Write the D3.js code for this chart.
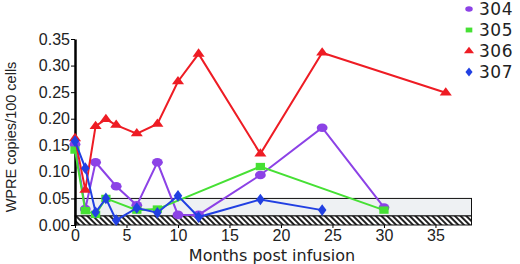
<!DOCTYPE html>
<html>
<head>
<meta charset="utf-8">
<script src="https://cdn.jsdelivr.net/npm/d3@7"></script>
<style>
  body { margin: 0; background: #fff; }
  svg { display: block; font-family: 'DejaVu Sans', sans-serif; }
</style>
</head>
<body>
<div id="chart"></div>
<script>
// Data
const patients = ['304', '305', '306', '307'];
const months304 = [0, 1, 2, 4, 6, 8, 10, 12, 18, 24, 30];
const wpre304 = [0.152, 0.03, 0.118, 0.073, 0.037, 0.118, 0.019, 0.019, 0.094, 0.183, 0.033];
const months305 = [0, 1, 2, 3, 6, 8, 18, 30];
const wpre305 = [0.141, 0.027, 0.02, 0.05, 0.028, 0.03, 0.11, 0.028];
const months306 = [0, 1, 2, 3, 4, 6, 8, 10, 12, 18, 24, 36];
const wpre306 = [0.163, 0.066, 0.186, 0.199, 0.188, 0.172, 0.19, 0.27, 0.322, 0.134, 0.324, 0.249];
const months307 = [0, 1, 2, 3, 4, 6, 8, 10, 12, 18, 24];
const wpre307 = [0.158, 0.107, 0.024, 0.05, 0.009, 0.032, 0.023, 0.055, 0.015, 0.048, 0.028];
const yTicks = [0, 0.05, 0.1, 0.15, 0.2, 0.25, 0.3, 0.35];
const xTicks = [0, 5, 10, 15, 20, 25, 30, 35];
const limitQuant = 0.05; // shaded box top
const limitDetect = 0.017; // hatched band top

const makeChart = () => {
  const size = { width: 520, height: 264 };
  const svg = d3.select('#chart').append('svg')
    .attr('width', size.width).attr('height', size.height);

  const x = d3.scaleLinear().domain([0, 38.5]).range([75, 471.5]);
  const y = d3.scaleLinear().domain([0, 0.35]).range([225, 39]);

  const defs = svg.append('defs');
  const hatch = defs.append('pattern')
    .attr('id', 'hatch')
    .attr('patternUnits', 'userSpaceOnUse')
    .attr('width', 4).attr('height', 4)
    .attr('patternTransform', 'rotate(-45)');
  hatch.append('rect').attr('width', 4).attr('height', 4).attr('fill', '#fff');
  hatch.append('rect').attr('width', 2).attr('height', 4).attr('fill', '#222');

  // Shaded limit box
  svg.append('rect')
    .attr('x', x(0)).attr('y', y(limitQuant))
    .attr('width', x.range()[1] - x(0))
    .attr('height', y(limitDetect) - y(limitQuant))
    .attr('fill', '#eef1f3').attr('stroke', '#111').attr('stroke-width', 1);
  svg.append('rect')
    .attr('x', x(0)).attr('y', y(limitDetect))
    .attr('width', x.range()[1] - x(0))
    .attr('height', y(0) - y(limitDetect))
    .attr('fill', 'url(#hatch)').attr('stroke', '#111').attr('stroke-width', 1);

  // Y axis
  const yAxis = svg.append('g')
    .attr('transform', `translate(${x(0)},0)`)
    .call(d3.axisLeft(y).tickValues(yTicks).tickFormat(d3.format('.2f')).tickSize(4).tickSizeOuter(0));
  yAxis.select('.domain').attr('stroke-width', 2.5);
  yAxis.selectAll('text').style('font-size', '16px').attr('x', -5).attr('fill', '#222');

  // X axis ticks and labels
  const xAxis = svg.append('g')
    .attr('transform', `translate(0,${y(0)})`)
    .call(d3.axisBottom(x).tickValues(xTicks).tickSize(3).tickSizeOuter(0));
  xAxis.select('.domain').remove();
  xAxis.selectAll('text').style('font-size', '16px').attr('y', 5).attr('fill', '#222');

  svg.append('text')
    .text('Months post infusion')
    .attr('x', 272).attr('y', 261)
    .attr('text-anchor', 'middle')
    .style('font-size', '16px')
    .attr('fill', '#222');

  svg.append('text')
    .text('WPRE copies/100 cells')
    .attr('transform', `translate(16,${137}) rotate(-90)`)
    .attr('text-anchor', 'middle')
    .style('font-family', "'Liberation Sans', sans-serif")
    .style('font-size', '14.5px')
    .attr('fill', '#222');

  // Series
  const series = [
    { name: patients[0], months: months304, vals: wpre304, color: '#8c42e6', shape: d3.symbolCircle, size: 64 },
    { name: patients[1], months: months305, vals: wpre305, color: '#46e034', shape: d3.symbolSquare, size: 60 },
    { name: patients[2], months: months306, vals: wpre306, color: '#ee1c24', shape: d3.symbolTriangle, size: 44 },
    { name: patients[3], months: months307, vals: wpre307, color: '#2140e2', shape: d3.symbolDiamond, size: 44 },
  ];

  const line = d3.line().x((d) => x(d[0])).y((d) => y(d[1]));

  series.forEach((s) => {
    const pts = s.months.map((m, i) => [m, s.vals[i]]);
    const g = svg.append('g');
    g.append('path')
      .datum(pts)
      .attr('d', line)
      .attr('fill', 'none')
      .attr('stroke', s.color)
      .attr('stroke-width', 2);
    g.selectAll('path.pt')
      .data(pts)
      .enter()
      .append('path')
      .attr('class', 'pt')
      .attr('d', d3.symbol().type(s.shape).size(s.size))
      .attr('transform', (d) => `translate(${x(d[0])},${y(d[1])}) scale(1.2,0.95)`)
      .attr('fill', s.color);
  });

  // Legend
  const legend = svg.append('g');
  series.forEach((s, i) => {
    const ly = 9 + i * 21;
    legend.append('path')
      .attr('d', d3.symbol().type(s.shape).size(26))
      .attr('transform', `translate(469,${ly}) scale(1.3,0.95)`)
      .attr('fill', s.color);
    legend.append('text')
      .text(s.name)
      .attr('x', 479).attr('y', ly + 6)
      .style('font-size', '17px')
      .style('letter-spacing', '0.5px')
      .attr('fill', '#222');
  });
};

makeChart();
</script>
</body>
</html>
